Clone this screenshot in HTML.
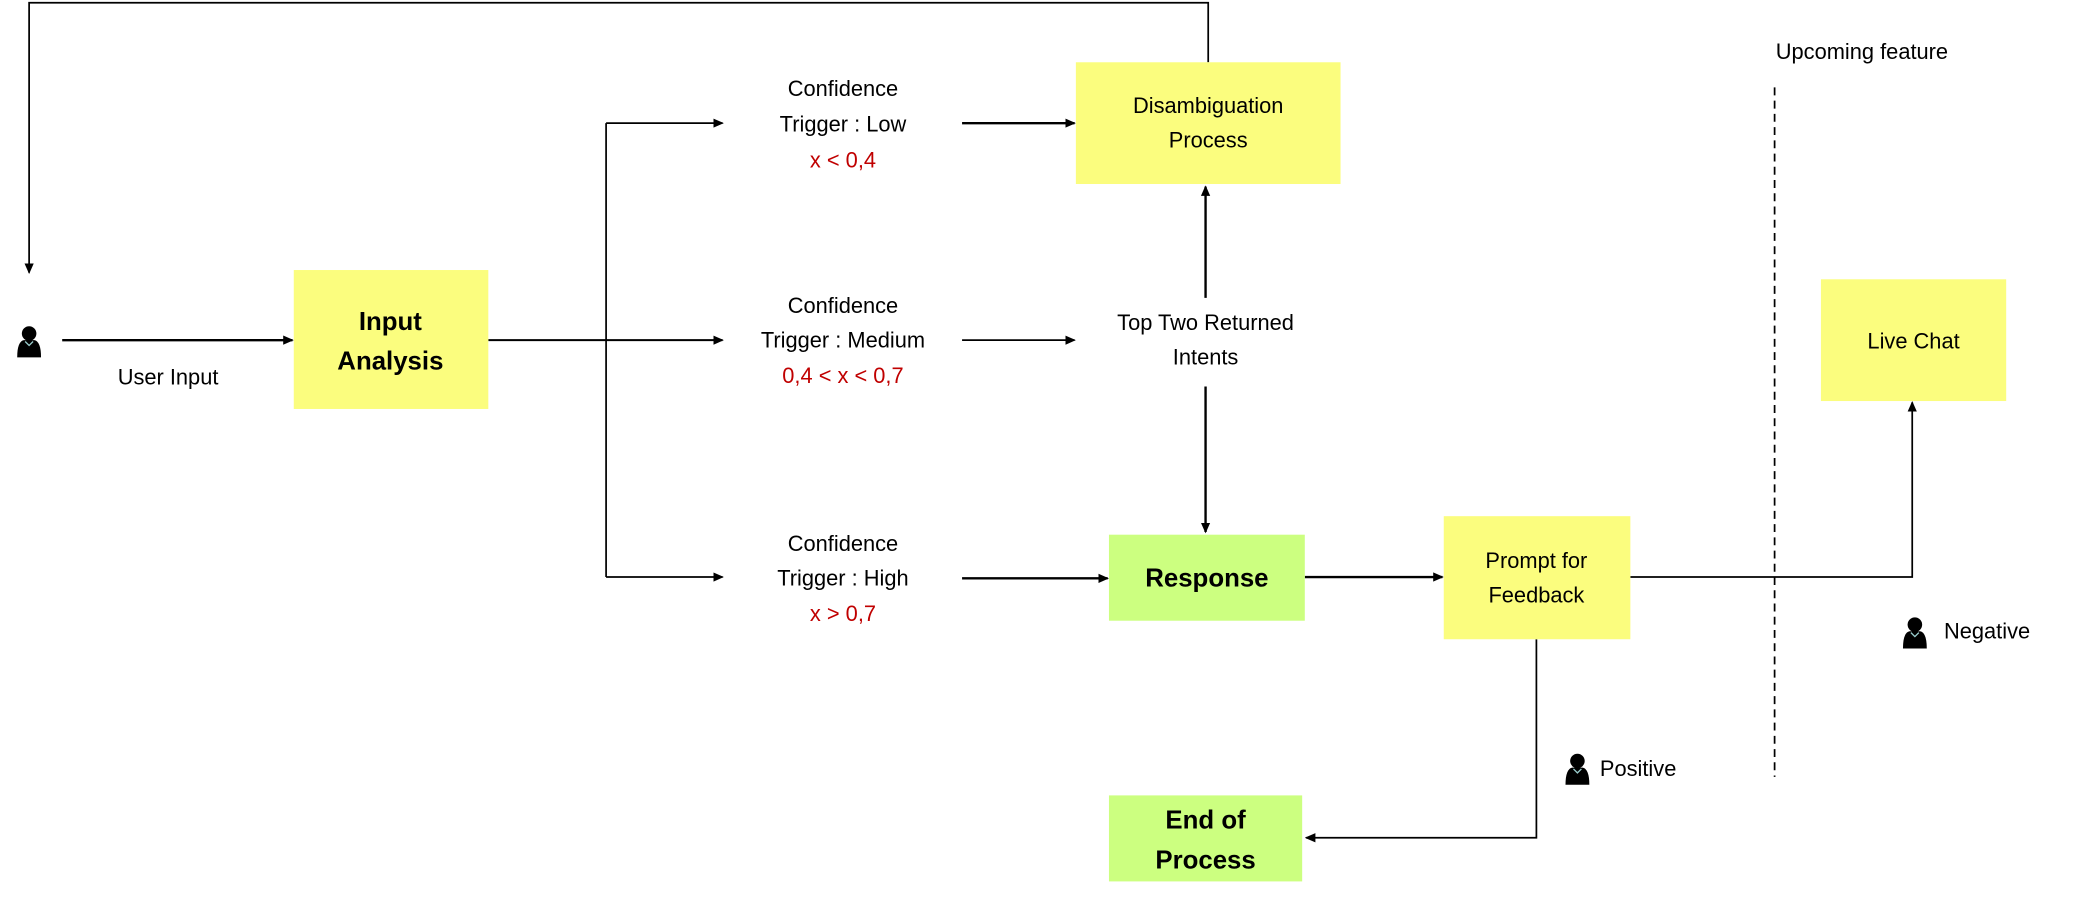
<!DOCTYPE html>
<html><head><meta charset="utf-8"><style>
html,body{margin:0;padding:0;background:#fff;width:2075px;height:900px;overflow:hidden}
svg{display:block}
text{font-family:"Liberation Sans",sans-serif;font-size:16.5px;fill:#000;text-anchor:middle;dominant-baseline:middle}
.b{font-weight:bold;font-size:19.5px}
.r{fill:#c00000}
.s{text-anchor:start}
</style></head><body>
<svg width="2075" height="900" viewBox="0 0 1568 680" xmlns="http://www.w3.org/2000/svg">
<defs>
<marker id="a" markerWidth="8" markerHeight="8" refX="7" refY="4" orient="auto" markerUnits="userSpaceOnUse"><path d="M0,0.5 L8,4 L0,7.5 z" fill="#000"/></marker>
<g id="p"><circle cx="0" cy="-6" r="5.5" fill="#000"/><path d="M-9,12 Q-9,0 -4,-1 L4,-1 Q9,0 9,12 z" fill="#000"/><path d="M-3,0 L0,3 L3,0" stroke="#9cc" stroke-width="1" fill="none"/></g>
</defs>
<g stroke="#000" stroke-width="1.3" fill="none">
<path d="M913,47 V2 H22 V206" marker-end="url(#a)"/>
<path d="M47,257 H221" marker-end="url(#a)" stroke-width="1.8"/>
<path d="M369,257 H546" marker-end="url(#a)" stroke-width="1.5"/>
<path d="M458,93 V436"/>
<path d="M458,93 H546" marker-end="url(#a)"/>
<path d="M458,436 H546" marker-end="url(#a)"/>
<path d="M727,93 H812" marker-end="url(#a)" stroke-width="1.8"/>
<path d="M727,257 H812" marker-end="url(#a)"/>
<path d="M911,225 V141" marker-end="url(#a)" stroke-width="1.8"/>
<path d="M911,292 V402" marker-end="url(#a)" stroke-width="1.8"/>
<path d="M727,437 H837" marker-end="url(#a)" stroke-width="1.8"/>
<path d="M986,436 H1090" marker-end="url(#a)" stroke-width="1.8"/>
<path d="M1232,436 H1445 V304" marker-end="url(#a)"/>
<path d="M1161,483 V633 H987" marker-end="url(#a)"/>
<path d="M1341,66 V587" stroke-dasharray="6,4"/>
</g>
<rect x="222" y="204" width="147" height="105" fill="#fbfd7e"/>
<rect x="813" y="47" width="200" height="92" fill="#fbfd7e"/>
<rect x="838" y="404" width="148" height="65" fill="#ccff80"/>
<rect x="1091" y="390" width="141" height="93" fill="#fbfd7e"/>
<rect x="1376" y="211" width="140" height="92" fill="#fbfd7e"/>
<rect x="838" y="601" width="146" height="65" fill="#ccff80"/>
<use href="#p" x="22" y="258"/>
<use href="#p" x="1447" y="478"/>
<use href="#p" x="1192" y="581"/>
<text x="127" y="286">User Input</text>
<text class="b" x="295" y="244">Input</text>
<text class="b" x="295" y="274">Analysis</text>
<text x="637" y="68">Confidence</text>
<text x="637" y="95">Trigger : Low</text>
<text class="r" x="637" y="122">x &lt; 0,4</text>
<text x="637" y="232">Confidence</text>
<text x="637" y="258">Trigger : Medium</text>
<text class="r" x="637" y="285">0,4 &lt; x &lt; 0,7</text>
<text x="637" y="412">Confidence</text>
<text x="637" y="438">Trigger : High</text>
<text class="r" x="637" y="465">x &gt; 0,7</text>
<text x="913" y="81">Disambiguation</text>
<text x="913" y="107">Process</text>
<text x="911" y="245">Top Two Returned</text>
<text x="911" y="271">Intents</text>
<text class="b" x="912" y="438">Response</text>
<text x="1161" y="425">Prompt for</text>
<text x="1161" y="451">Feedback</text>
<text x="1446" y="259">Live Chat</text>
<text class="b" x="911" y="621">End of</text>
<text class="b" x="911" y="651">Process</text>
<text x="1407" y="40">Upcoming feature</text>
<text class="s" x="1469" y="478">Negative</text>
<text class="s" x="1209" y="582">Positive</text>
</svg>
</body></html>
